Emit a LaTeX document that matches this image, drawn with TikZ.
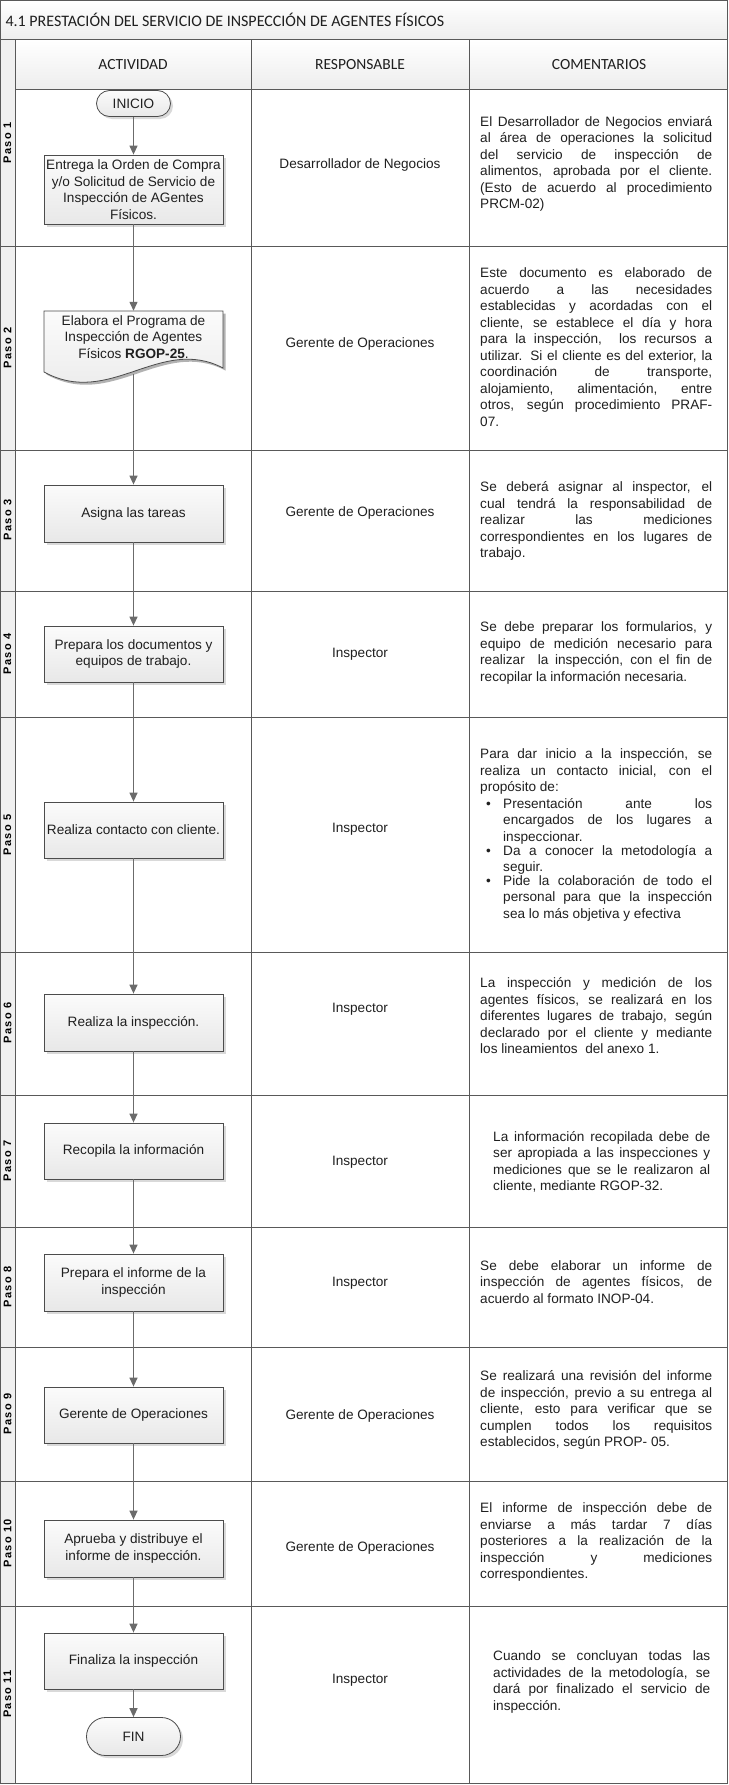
\documentclass[tikz,border=0pt]{standalone}
\usepackage{fontspec}
\setmainfont{Liberation Sans}
\newfontfamily\calib{Carlito}
\newfontfamily\pasof[LetterSpace=12]{Liberation Sans}
\usetikzlibrary{arrows.meta,shadows}
\newcommand\txtf{\fontsize{13.6}{16.5}\selectfont}
\newcommand\bitem[1]{\par\noindent\hbox to 23pt{\hspace{6pt}\textbullet\hfil}\parbox[t]{209pt}{#1}\par}
\definecolor{linec}{gray}{0.35}
\definecolor{arrc}{gray}{0.42}
\begin{document}
\begin{tikzpicture}[x=1pt,y=-1pt,
 tl/.style={draw=linec,line width=1pt},
 proc/.style={draw=gray!60!black,line width=0.8pt,top color=gray!3,bottom color=gray!18,minimum width=179pt,inner sep=2pt,align=center,font=\txtf,text=black!88,drop shadow={shadow xshift=2.5pt,shadow yshift=-2.5pt,opacity=0.3}},
 term/.style={proc,rounded corners=13pt,minimum width=74pt,minimum height=26pt},
 resp/.style={font=\txtf,text=black!88},
 cmt/.style={font=\txtf,text=black!88,text width=232pt,align=justify,anchor=west,inner sep=0pt},
 cmtn/.style={cmt,text width=217pt},
 paso/.style={rotate=90,font=\pasof\fontsize{11}{12}\selectfont\bfseries,text=black},
 hdr/.style={font=\calib\fontsize{15.5}{18}\selectfont,text=black!88},
 arr/.style={draw=arrc,line width=1.3pt,-{Triangle[length=9pt,width=8pt]}},
]
\useasboundingbox (0,0) rectangle (728,1785);
% backgrounds
\shade[top color=white,bottom color=gray!14] (0,0) rectangle (728,40);
\shade[top color=white,bottom color=gray!14] (15,40) rectangle (728,89);
\fill[gray!12] (0,40) rectangle (15,1784);
% table lines
\draw[tl] (0.5,0.5) rectangle (727.5,1783.5);
\draw[tl] (0,40) -- (728,40);
\draw[tl] (15,40) -- (15,1784);
\draw[tl] (251,40) -- (251,1784);
\draw[tl] (469.5,40) -- (469.5,1784);
\draw[tl] (15,89) -- (728,89);
\foreach \y in {246,450,591,717,952,1095,1227,1347,1481,1606} \draw[tl] (0,\y) -- (728,\y);
% title and headers
\node[anchor=west,font=\calib\fontsize{16}{19}\selectfont,text=black!88] (title) at (2,20) {4.1 PRESTACIÓN DEL SERVICIO DE INSPECCIÓN DE AGENTES FÍSICOS};
\node[hdr] (h1) at (133,65) {ACTIVIDAD};
\node[hdr] (h2) at (360,65) {RESPONSABLE};
\node[hdr] (h3) at (599,65) {COMENTARIOS};
% paso labels
\node[paso] (p1) at (7.5,143) {Paso 1};
\node[paso] (p2) at (7.5,348) {Paso 2};
\node[paso] (p3) at (7.5,520) {Paso 3};
\node[paso] (p4) at (7.5,654) {Paso 4};
\node[paso] (p5) at (7.5,835) {Paso 5};
\node[paso] (p6) at (7.5,1023) {Paso 6};
\node[paso] (p7) at (7.5,1161) {Paso 7};
\node[paso] (p8) at (7.5,1287) {Paso 8};
\node[paso] (p9) at (7.5,1414) {Paso 9};
\node[paso] (p10) at (7.5,1543) {Paso 10};
\node[paso] (p11) at (7.5,1694) {Paso 11};
% flow
\node[term] (ini) at (133.5,103.5) {INICIO};
\node[proc,minimum height=69pt] (b1) at (133.5,189.5) {Entrega la Orden de Compra\\y/o Solicitud de Servicio de\\Inspección de AGentes\\Físicos.};
\fill[black,opacity=0.3] (46.5,313.5) -- (225.5,313.5) -- (225.5,370.5) .. controls (162.5,337.5) and (112.5,410.5) .. (46.5,374.5) -- cycle;
\draw[draw=gray!60!black,line width=0.8pt,top color=gray!3,bottom color=gray!18] (44,311) -- (223,311) -- (223,368) .. controls (160,335) and (110,408) .. (44,372) -- cycle;
\node[font=\txtf,text=black!88,align=center,minimum width=179pt,minimum height=52pt,inner sep=2pt] (b2) at (133.5,337) {Elabora el Programa de\\Inspección de Agentes\\Físicos \textbf{RGOP-25}.};
\coordinate (b2w) at (133.5,374);
\node[proc,minimum height=57pt] (b3) at (133.5,513.5) {Asigna las tareas};
\node[proc,minimum height=56pt] (b4) at (133.5,654) {Prepara los documentos y\\equipos de trabajo.};
\node[proc,minimum height=56pt] (b5) at (133.5,830) {Realiza contacto con cliente.};
\node[proc,minimum height=57pt] (b6) at (133.5,1022.5) {Realiza la inspección.};
\node[proc,minimum height=56pt] (b7) at (133.5,1151) {Recopila la información};
\node[proc,minimum height=57pt] (b8) at (133.5,1282.5) {Prepara el informe de la\\inspección};
\node[proc,minimum height=56pt] (b9) at (133.5,1415) {Gerente de Operaciones};
\node[proc,minimum height=57pt] (b10) at (133.5,1548.5) {Aprueba y distribuye el\\informe de inspección.};
\node[proc,minimum height=56pt] (b11) at (133.5,1661) {Finaliza la inspección};
\node[term,minimum width=94pt,minimum height=38pt,rounded corners=19pt] (fin) at (133.5,1736.5) {FIN};
\draw[arr] (ini) -- (b1);
\draw[arr] (b1) -- (b2.north);
\draw[arr] (b2w) -- (b3);
\draw[arr] (b3) -- (b4);
\draw[arr] (b4) -- (b5);
\draw[arr] (b5) -- (b6);
\draw[arr] (b6) -- (b7);
\draw[arr] (b7) -- (b8);
\draw[arr] (b8) -- (b9);
\draw[arr] (b9) -- (b10);
\draw[arr] (b10) -- (b11);
\draw[arr] (b11) -- (fin);
% responsables
\node[resp] (r1) at (360,165) {Desarrollador de Negocios};
\node[resp] (r2) at (360,344) {Gerente de Operaciones};
\node[resp] (r3) at (360,513) {Gerente de Operaciones};
\node[resp] (r4) at (360,654) {Inspector};
\node[resp] (r5) at (360,829) {Inspector};
\node[resp] (r6) at (360,1009) {Inspector};
\node[resp] (r7) at (360,1162) {Inspector};
\node[resp] (r8) at (360,1283) {Inspector};
\node[resp] (r9) at (360,1416) {Gerente de Operaciones};
\node[resp] (r10) at (360,1548) {Gerente de Operaciones};
\node[resp] (r11) at (360,1680) {Inspector};
% comentarios
\node[cmt] (c1) at (480,164) {El Desarrollador de Negocios enviará\linebreak al área de operaciones la solicitud\linebreak del servicio de inspección de\linebreak alimentos, aprobada por el cliente.\linebreak (Esto de acuerdo al procedimiento\linebreak PRCM-02)};
\node[cmt] (c2) at (480,347) {Este documento es elaborado de\linebreak acuerdo a las necesidades\linebreak establecidas y acordadas con el\linebreak cliente, se establece el día y hora\linebreak para la inspección, \ los recursos a\linebreak utilizar. Si el cliente es del exterior, la\linebreak coordinación de transporte,\linebreak alojamiento, alimentación, entre\linebreak otros, según procedimiento PRAF-\linebreak 07.};
\node[cmt] (c3) at (480,521) {Se deberá asignar al inspector, el\linebreak cual tendrá la responsabilidad de\linebreak realizar las mediciones\linebreak correspondientes en los lugares de\linebreak trabajo.};
\node[cmt] (c4) at (480,653) {Se debe preparar los formularios, y\linebreak equipo de medición necesario para\linebreak realizar \ la inspección, con el fin de\linebreak recopilar la información necesaria.};
\node[cmt] (c5) at (480,835) {Para dar inicio a la inspección, se\linebreak realiza un contacto inicial, con el\linebreak propósito de:\bitem{Presentación ante los\linebreak encargados de los lugares a\linebreak inspeccionar.}\bitem{Da a conocer la metodología a\linebreak seguir.}\bitem{Pide la colaboración de todo el\linebreak personal para que la inspección\linebreak sea lo más objetiva y efectiva}};
\node[cmt] (c6) at (480,1016) {La inspección y medición de los\linebreak agentes físicos, se realizará en los\linebreak diferentes lugares de trabajo, según\linebreak declarado por el cliente y mediante\linebreak los lineamientos \ del anexo 1.};
\node[cmtn] (c7) at (493,1162) {La información recopilada debe de\linebreak ser apropiada a las inspecciones y\linebreak mediciones que se le realizaron al\linebreak cliente, mediante RGOP-32.};
\node[cmt] (c8) at (480,1282) {Se debe elaborar un informe de\linebreak inspección de agentes físicos, de\linebreak acuerdo al formato INOP-04.};
\node[cmt] (c9) at (480,1410) {Se realizará una revisión del informe\linebreak de inspección, previo a su entrega al\linebreak cliente, esto para verificar que se\linebreak cumplen todos los requisitos\linebreak establecidos, según PROP- 05.};
\node[cmt] (c10) at (480,1542) {El informe de inspección debe de\linebreak enviarse a más tardar 7 días\linebreak posteriores a la realización de la\linebreak inspección y mediciones\linebreak correspondientes.};
\node[cmtn] (c11) at (493,1682) {Cuando se concluyan todas las\linebreak actividades de la metodología, se\linebreak dará por finalizado el servicio de\linebreak inspección.};
\end{tikzpicture}
\end{document}
